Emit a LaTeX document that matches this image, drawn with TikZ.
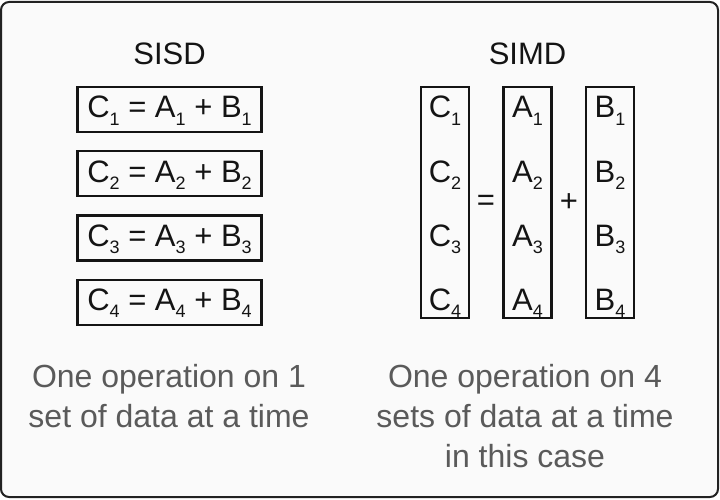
\documentclass[tikz,border=0pt]{standalone}
\usepackage{fontspec}
\setmainfont{Liberation Sans}
\usepackage{xcolor}
\definecolor{sframe}{HTML}{222222}
\definecolor{spaper}{HTML}{FAFAFA}
\definecolor{sink}{HTML}{141414}
\definecolor{snote}{HTML}{5A5A5A}
\usetikzlibrary{positioning}
\newcommand{\lowidx}[1]{\raisebox{-7pt}{\fontsize{18}{18}\selectfont #1}}

\begin{document}
\begin{tikzpicture}[x=1pt,y=1pt,font=\fontsize{31}{36}\selectfont,
  ttl/.style={font=\fontsize{31}{36}\selectfont,text=sink,anchor=base,inner sep=0pt},
  eq/.style={rectangle,draw=sink,line width=2.2pt,text=sink,minimum width=184pt,minimum height=45pt,text height=22pt,text depth=5pt,inner sep=0pt},
  col/.style={rectangle,draw=sink,line width=2.2pt,minimum width=48pt,minimum height=231pt},
  lt/.style={text=sink,text height=22pt,text depth=5pt,inner sep=0pt},
  op/.style={text=sink,inner sep=0pt},
  note/.style={font=\fontsize{32}{40}\selectfont,text=snote,align=center,anchor=base,inner sep=0pt}]
\useasboundingbox (0,0) rectangle (720,499);
\draw[sframe,line width=2pt,fill=spaper,rounded corners=8pt] (1,2) rectangle (718,497);
% SISD side
\node[ttl] (sisd) at (169.5,434) {SISD};
\node[eq] (s1) at (169.5,389.5) {C\lowidx{1} = A\lowidx{1} + B\lowidx{1}};
\node[eq,below=17pt of s1] (s2) {C\lowidx{2} = A\lowidx{2} + B\lowidx{2}};
\node[eq,below=17pt of s2] (s3) {C\lowidx{3} = A\lowidx{3} + B\lowidx{3}};
\node[eq,below=17pt of s3] (s4) {C\lowidx{4} = A\lowidx{4} + B\lowidx{4}};
\node[note] (nsisd) at (169,72) {One operation on 1\\set of data at a time};
% SIMD side
\node[ttl] (simd) at (527.5,434) {SIMD};
\node[col] (cc) at (445,296.5) {};
\node[col] (ca) at (527.5,296.5) {};
\node[col] (cb) at (610,296.5) {};
\node[lt] (c1) at (cc |- s1) {C\lowidx{1}};
\node[lt] (c2) at (cc |- s2) {C\lowidx{2}};
\node[lt] (c3) at (cc |- s3) {C\lowidx{3}};
\node[lt] (c4) at (cc |- s4) {C\lowidx{4}};
\node[lt] (a1) at (ca |- s1) {A\lowidx{1}};
\node[lt] (a2) at (ca |- s2) {A\lowidx{2}};
\node[lt] (a3) at (ca |- s3) {A\lowidx{3}};
\node[lt] (a4) at (ca |- s4) {A\lowidx{4}};
\node[lt] (b1) at (cb |- s1) {B\lowidx{1}};
\node[lt] (b2) at (cb |- s2) {B\lowidx{2}};
\node[lt] (b3) at (cb |- s3) {B\lowidx{3}};
\node[lt] (b4) at (cb |- s4) {B\lowidx{4}};
\node[op] (eqs) at (486,296) {=};
\node[op] (pls) at (569,296) {+};
\node[note] (nsimd) at (525,32) {One operation on 4\\sets of data at a time\\in this case};
\end{tikzpicture}
\end{document}
